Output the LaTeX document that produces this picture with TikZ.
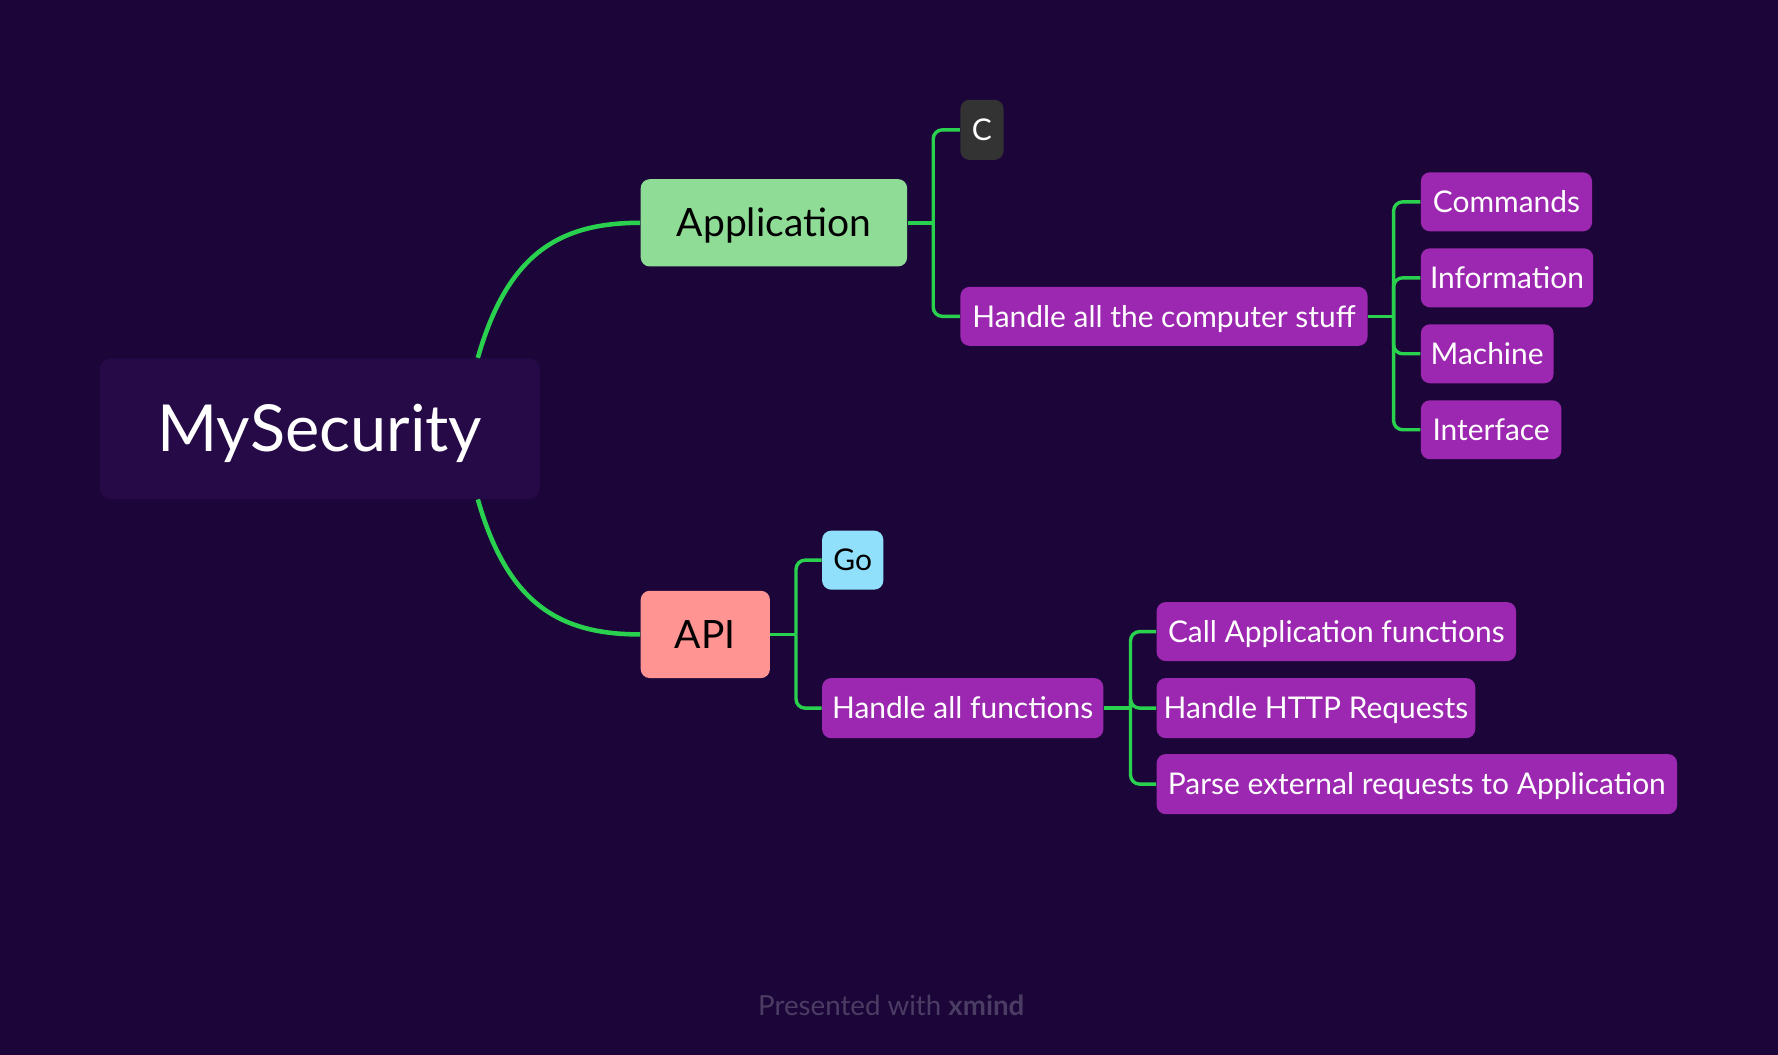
\documentclass[tikz,border=0pt]{standalone}
\usepackage{fontspec}
\setmainfont{Lato}
\definecolor{bg}{HTML}{1C0639}
\definecolor{rootfill}{HTML}{250A47}
\definecolor{lime}{HTML}{2AD14F}
\definecolor{purp}{HTML}{9C27B0}
\definecolor{appgreen}{HTML}{8FDC97}
\definecolor{salmon}{HTML}{FF9492}
\definecolor{skyblue}{HTML}{90E0FC}
\definecolor{darkgray}{HTML}{333333}
\definecolor{foot}{HTML}{4B3C63}
\begin{document}
\begin{tikzpicture}[x=0.5pt,y=-0.5pt,
  box/.style={rounded corners=4pt, inner sep=0pt, align=center, text depth=0pt},
  leaf/.style={box, fill=purp, text=white, font=\fontsize{13.2}{15}\selectfont, text height=9.5pt, minimum height=26pt},
  topic/.style={box, text=black, font=\fontsize{17.2}{20}\selectfont, text height=12.4pt, minimum height=38.5pt},
  mainconn/.style={draw=lime, line width=2pt},
  conn/.style={draw=lime, line width=1.5pt, rounded corners=4pt}]
\fill[bg] (0,0) rectangle (1568,930);
\useasboundingbox (0,0) rectangle (1568,930);

% nodes
\node[box, fill=rootfill, text=white, rounded corners=5pt, font=\fontsize{28.6}{32}\selectfont, text height=20.6pt, minimum width=194pt, minimum height=62pt] (root) at (282,378) {MySecurity};
\node[topic, fill=appgreen, minimum width=117.5pt] (app) at (682.5,196.5) {Application};
\node[topic, fill=salmon, minimum width=57pt] (api) at (622,559.5) {API};

\node[leaf, fill=darkgray, minimum width=19pt, minimum height=26.5pt] (c) at (866,114.5) {C};
\node[leaf, minimum width=179.5pt] (h1) at (1026.5,279) {Handle all the computer stuff};
\node[leaf, minimum width=75.5pt] (cmd) at (1328.5,178) {Commands};
\node[leaf, minimum width=76pt] (info) at (1329,245) {Information};
\node[leaf, minimum width=58.5pt] (mach) at (1311.5,312) {Machine};
\node[leaf, minimum width=62pt] (intf) at (1315,379) {Interface};

\node[leaf, fill=skyblue, text=black, minimum width=27pt] (go) at (752,494) {Go};
\node[leaf, minimum width=124pt, minimum height=26.5pt] (h2) at (849,624.5) {Handle all functions};
\node[leaf, minimum width=158.5pt] (call) at (1178.5,557) {Call Application functions};
\node[leaf, minimum width=140.5pt, minimum height=26.5pt] (http) at (1160.5,624.5) {Handle HTTP Requests};
\node[leaf, minimum width=229.5pt, minimum height=26.5pt] (parse) at (1249.5,691.5) {Parse external requests to Application};

\node[text=foot, font=\fontsize{12.2}{14}\selectfont] (footer) at (786,887) {Presented with \textbf{xmind}};

% main connectors
\draw[mainconn] ([xshift=-27.5pt]root.north east) .. controls (448,222) and (495,196.5) .. (app.west);
\draw[mainconn] ([xshift=-27.5pt]root.south east) .. controls (448,534) and (495,559.5) .. (api.west);

% Application branch
\coordinate (j1) at (823,196.5);
\draw[conn] (app.east) -- (j1);
\draw[conn] (j1) |- (c.west);
\draw[conn] (j1) |- (h1.west);

% Handle computer branch
\coordinate (j2) at (1229,279);
\draw[conn] (h1.east) -- (j2);
\draw[conn] (j2) |- (cmd.west);
\draw[conn] (j2) |- (info.west);
\draw[conn] (j2) |- (mach.west);
\draw[conn] (j2) |- (intf.west);

% API branch
\coordinate (j3) at (702,559.5);
\draw[conn] (api.east) -- (j3);
\draw[conn] (j3) |- (go.west);
\draw[conn] (j3) |- (h2.west);

% Handle functions branch
\coordinate (j4) at (997,624.5);
\draw[conn] (h2.east) -- (j4);
\draw[conn] (j4) |- (call.west);
\draw[conn] (j4) |- (http.west);
\draw[conn] (j4) |- (parse.west);
\end{tikzpicture}
\end{document}
